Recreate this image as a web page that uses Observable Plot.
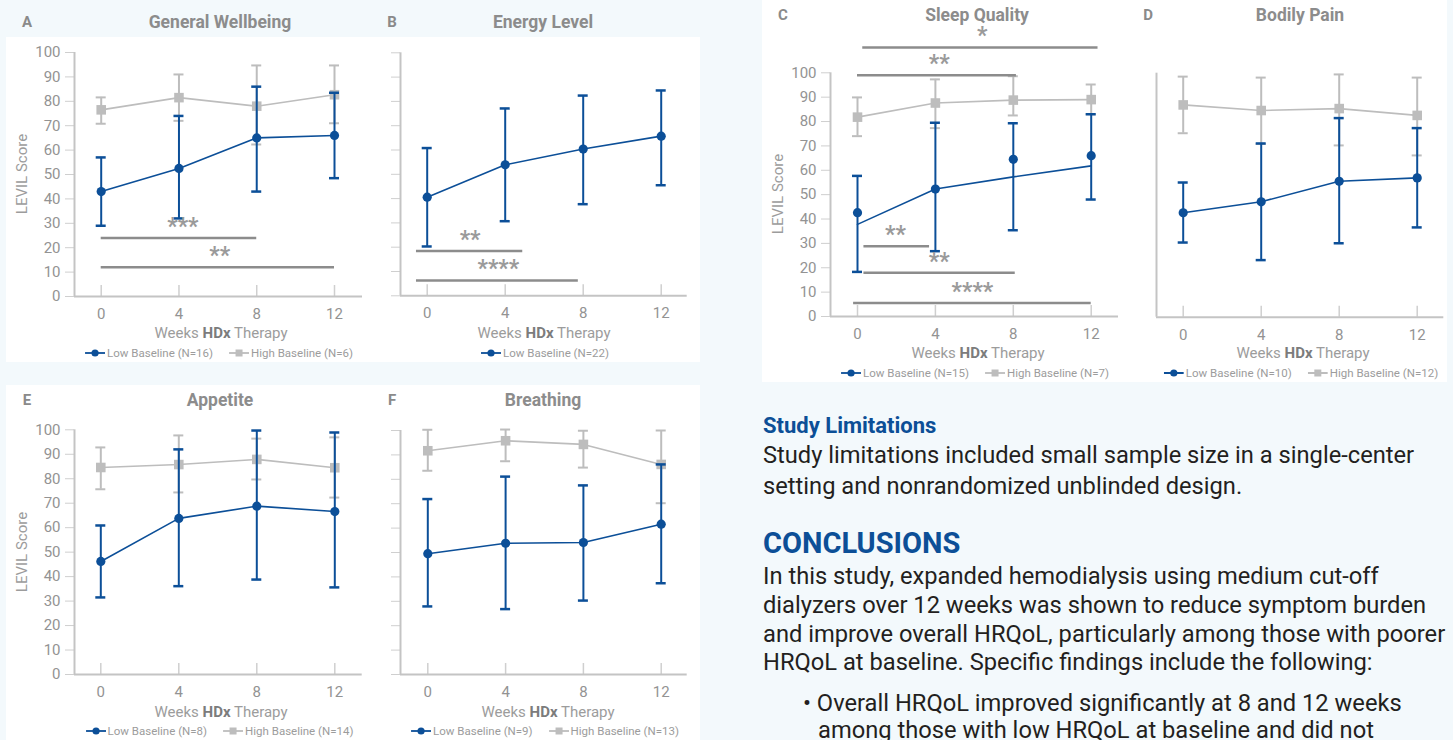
<!DOCTYPE html>
<html><head><meta charset="utf-8">
<script src="https://cdn.jsdelivr.net/npm/d3@7"></script>
<script src="https://cdn.jsdelivr.net/npm/@observablehq/plot@0.6"></script>
<style>
body{margin:0;width:1453px;height:740px;overflow:hidden;background:#f3f9fc;font-family:Roboto,"Open Sans",sans-serif;position:relative}
.card{position:absolute;background:#fff}
.letter{position:absolute;font-weight:700;font-size:15px;color:#8a8a8a;transform:translate(-50%,-50%)}
.title{position:absolute;font-weight:700;font-size:17.5px;color:#8c8c8c;transform:translate(-50%,-50%);white-space:nowrap}
.xtitle{position:absolute;font-size:15px;color:#9c9c9c;transform:translate(-50%,-50%);white-space:nowrap}
.xtitle b{color:#7c7c7c}
.ylabel{position:absolute;font-size:15px;color:#9c9c9c;transform:translate(-50%,-50%) rotate(-90deg);white-space:nowrap}
.legend{position:absolute;transform:translate(-50%,-50%);display:flex;gap:16px;font-size:11.5px;color:#9c9c9c;white-space:nowrap;align-items:center}
.legend .item{display:flex;align-items:center;gap:2px}
.plotbox{position:absolute}
#txt{position:absolute;left:763px;top:0;color:#231f20}
#txt div{position:absolute;left:0;white-space:nowrap;line-height:30px}
.body{font-size:23.7px}
</style>
</head><body>
<div class="card" style="left:6px;top:37px;width:694px;height:325px"></div>
<div class="card" style="left:762px;top:0;width:685px;height:382px"></div>
<div class="card" style="left:6px;top:385px;width:694px;height:355px"></div>
<div id="root"></div>
<div id="txt">
  <div style="top:411px;font-size:22px;font-weight:700;color:#0c4f97">Study Limitations</div>
  <div class="body" style="top:440px">Study limitations included small sample size in a single-center</div>
  <div class="body" style="top:471px">setting and nonrandomized unblinded design.</div>
  <div style="top:528px;font-size:29px;font-weight:700;color:#0c4f97">CONCLUSIONS</div>
  <div class="body" style="top:561px">In this study, expanded hemodialysis using medium cut-off</div>
  <div class="body" style="top:590px">dialyzers over 12 weeks was shown to reduce symptom burden</div>
  <div class="body" style="top:619px">and improve overall HRQoL, particularly among those with poorer</div>
  <div class="body" style="top:647px">HRQoL at baseline. Specific findings include the following:</div>
  <div class="body" style="top:688px;left:40px">• Overall HRQoL improved significantly at 8 and 12 weeks</div>
  <div class="body" style="top:715px;left:55px">among those with low HRQoL at baseline and did not</div>
</div>
<script>
// ---------- DATA ----------
const weeks = [0, 4, 8, 12];
const yTicks = [0, 10, 20, 30, 40, 50, 60, 70, 80, 90, 100];
const panelLetters = ["A", "B", "C", "D", "E", "F"];
const panelTitles = ["General Wellbeing", "Energy Level", "Sleep Quality", "Bodily Pain", "Appetite", "Breathing"];
const lowLegend = ["Low Baseline (N=16)", "Low Baseline (N=22)", "Low Baseline (N=15)", "Low Baseline (N=10)", "Low Baseline (N=8)", "Low Baseline (N=9)"];
const highLegend = ["High Baseline (N=6)", null, "High Baseline (N=7)", "High Baseline (N=12)", "High Baseline (N=14)", "High Baseline (N=13)"];

// A General Wellbeing
const aLowMean = [43, 52.5, 65, 66];
const aLowLo = [29, 32, 43, 48.5];
const aLowHi = [57, 74, 86, 83.5];
const aHighMean = [76.5, 81.5, 78, 82.7];
const aHighLo = [70.8, 72, 62.3, 71];
const aHighHi = [81.6, 91, 94.7, 94.7];
const aSigFrom = [0, 0], aSigTo = [8, 12], aSigY = [24, 12], aSigLabel = ["***", "**"], aSigLabelX = [4.2, 6.1];

// B Energy Level
const bLowMean = [40.6, 53.9, 60.4, 65.7];
const bLowLo = [20.3, 30.7, 37.7, 45.5];
const bLowHi = [60.8, 77.1, 82.4, 84.5];
const bSigFrom = [-0.55, -0.55], bSigTo = [4.9, 7.75], bSigY = [18.4, 6.3], bSigLabel = ["**", "****"], bSigLabelX = [2.2, 3.65];

// C Sleep Quality
const cLowMean = [42.6, 52.3, 64.5, 66];
const cLowLo = [18.3, 26.8, 35.4, 48];
const cLowHi = [57.7, 79.5, 79.3, 83];
const cLowLine = [37.8, 52.3, 57.3, 61.8];
const cHighMean = [81.8, 87.6, 88.8, 89];
const cHighLo = [74, 77.3, 82.5, 83];
const cHighHi = [89.9, 97.3, 98.6, 95.2];
const cSigFrom = [0.27, 0, 0.33, 0.33, -0.2], cSigTo = [12.35, 8.16, 3.7, 8.1, 12];
const cSigY = [110.4, 99, 28.8, 18, 5.5], cSigLabel = ["*", "**", "**", "**", "****"], cSigLabelX = [6.4, 4.2, 1.95, 4.2, 5.9];

// D Bodily Pain
const dLowMean = [42.8, 47.3, 55.7, 57.1];
const dLowLo = [30.6, 23.4, 30.3, 36.8];
const dLowHi = [55.2, 71.2, 81.6, 77.5];
const dHighMean = [87, 84.7, 85.5, 82.7];
const dHighLo = [75.4, 71, 70.4, 66.3];
const dHighHi = [98.6, 98.2, 99.5, 98.2];

// E Appetite
const eLowMean = [46.2, 63.8, 68.8, 66.6];
const eLowLo = [31.5, 36.1, 38.8, 35.6];
const eLowHi = [60.9, 92, 99.7, 98.9];
const eHighMean = [84.6, 85.8, 87.9, 84.5];
const eHighLo = [75.7, 74.4, 79.7, 72.3];
const eHighHi = [92.8, 97.7, 96.4, 96.9];

// F Breathing
const fLowMean = [49.5, 53.8, 54.1, 61.6];
const fLowLo = [27.9, 26.8, 30.3, 37.4];
const fLowHi = [71.9, 81.1, 77.5, 86.1];
const fHighMean = [91.7, 95.8, 94.3, 86.1];
const fHighLo = [83.5, 87.4, 84.8, 70.2];
const fHighHi = [100.3, 100.4, 99.9, 100];

// ---------- STYLE / LAYOUT ----------
const BLUE = "#0c4f98", GRAY = "#bdbdbd", AXIS = "#c4c4c4", TICK = "#cfcfcf", LABEL = "#939393", SIG = "#8c8c8c", STAR = "#9a9a9a";

const rows = (m, lo, hi) => weeks.map((w, i) => ({w, m: m[i], lo: lo ? lo[i] : null, hi: hi ? hi[i] : null}));
const sigRows = (f, t, y, l, lx) => f.map((_, i) => ({x1: f[i], x2: t[i], y: y[i], label: l[i], lx: lx[i]}));

const panels = [
  {box: [0, 28, 370, 300], axisX: 74, rightX: 362, y100: 52, y0: 296, x0px: 100.7, x12px: 334, yMode: "labels",
   low: rows(aLowMean, aLowLo, aLowHi), high: rows(aHighMean, aHighLo, aHighHi), sig: sigRows(aSigFrom, aSigTo, aSigY, aSigLabel, aSigLabelX),
   letter: [27, 22], title: [220, 22], xtitle: [221, 333], legend: [219, 353], ylabel: [22, 174]},
  {box: [370, 28, 325, 300], axisX: 400, rightX: 686.7, y100: 52.3, y0: 295.3, x0px: 426.7, x12px: 660.7, yMode: "ticks",
   low: rows(bLowMean, bLowLo, bLowHi), high: null, sig: sigRows(bSigFrom, bSigTo, bSigY, bSigLabel, bSigLabelX),
   letter: [392, 22], title: [543, 22], xtitle: [544, 333], legend: [545, 353]},
  {box: [760, 0, 365, 348], axisX: 830, rightX: 1118, y100: 72.3, y0: 316, x0px: 857, x12px: 1090.7, yMode: "labels",
   low: rows(cLowMean, cLowLo, cLowHi), lowLine: rows(cLowLine), high: rows(cHighMean, cHighLo, cHighHi), sig: sigRows(cSigFrom, cSigTo, cSigY, cSigLabel, cSigLabelX),
   letter: [783, 15], title: [977, 15], xtitle: [978, 353], legend: [975, 373], ylabel: [778, 194]},
  {box: [1125, 0, 328, 348], axisX: 1156, rightX: 1443.3, y100: 72.7, y0: 316.7, x0px: 1182.7, x12px: 1416.7, yMode: "none",
   low: rows(dLowMean, dLowLo, dLowHi), high: rows(dHighMean, dHighLo, dHighHi), sig: [],
   letter: [1148, 15], title: [1300, 15], xtitle: [1303, 353], legend: [1301, 373]},
  {box: [0, 405, 370, 300], axisX: 74, rightX: 361.7, y100: 429.3, y0: 674, x0px: 100.3, x12px: 334.3, yMode: "labels",
   low: rows(eLowMean, eLowLo, eLowHi), high: rows(eHighMean, eHighLo, eHighHi), sig: [],
   letter: [27, 400], title: [220, 400], xtitle: [221, 712], legend: [219.5, 731], ylabel: [22, 552]},
  {box: [370, 405, 325, 300], axisX: 400, rightX: 686.7, y100: 430, y0: 674, x0px: 427.3, x12px: 660.7, yMode: "ticks",
   low: rows(fLowMean, fLowLo, fLowHi), high: rows(fHighMean, fHighLo, fHighHi), sig: [],
   letter: [392, 400], title: [543, 400], xtitle: [548, 712], legend: [545, 731]}
];

const root = document.getElementById("root");
function el(cls, html, x, y) {
  const d = document.createElement("div");
  d.className = cls; d.innerHTML = html;
  d.style.left = x + "px"; d.style.top = y + "px";
  root.appendChild(d); return d;
}
const swatchLow = `<svg width="20" height="10"><line x1="0" x2="20" y1="5" y2="5" stroke="${BLUE}" stroke-width="1.8"/><circle cx="10" cy="5" r="3.6" fill="${BLUE}"/></svg>`;
const swatchHigh = `<svg width="20" height="10"><line x1="0" x2="20" y1="5" y2="5" stroke="${GRAY}" stroke-width="1.8"/><rect x="6.5" y="1.5" width="7" height="7" fill="${GRAY}"/></svg>`;

panels.forEach((p, i) => {
  const [left, top, width, height] = p.box;
  const ppu = (p.x12px - p.x0px) / 12;
  const xmin = (p.axisX - p.x0px) / ppu, xmax = (p.rightX - p.x0px) / ppu;
  const capU = 5 / ppu;
  const plotH = p.y0 - p.y100;
  const marks = [];
  marks.push(Plot.ruleX(weeks, {x: d => d, insetTop: plotH - 11, stroke: TICK, strokeWidth: 1.5}));
  if (p.yMode === "labels") marks.push(Plot.axisY({ticks: yTicks, tickSize: 9, tickPadding: 5, fontSize: 15, stroke: TICK, fill: LABEL, label: null}));
  if (p.yMode === "ticks") marks.push(Plot.axisY({ticks: yTicks, tickSize: 9, tickPadding: 5, fontSize: 15, stroke: TICK, fill: LABEL, tickFormat: () => "", label: null}));
  marks.push(Plot.axisX({ticks: weeks, tickSize: 0, tickPadding: 12, fontSize: 15, fill: LABEL, label: null}));
  marks.push(Plot.ruleX([xmin], {stroke: AXIS, strokeWidth: 2}));
  marks.push(Plot.ruleY([0], {stroke: AXIS, strokeWidth: 2}));
  if (p.high) {
    marks.push(Plot.ruleX(p.high, {x: "w", y1: "lo", y2: "hi", stroke: GRAY, strokeWidth: 2}));
    marks.push(Plot.ruleY(p.high, {y: "lo", x1: d => d.w - capU, x2: d => d.w + capU, stroke: GRAY, strokeWidth: 2}));
    marks.push(Plot.ruleY(p.high, {y: "hi", x1: d => d.w - capU, x2: d => d.w + capU, stroke: GRAY, strokeWidth: 2}));
    marks.push(Plot.line(p.high, {x: "w", y: "m", stroke: GRAY, strokeWidth: 1.6}));
    marks.push(Plot.dot(p.high, {x: "w", y: "m", symbol: "square", r: 5.4, fill: GRAY}));
  }
  marks.push(Plot.ruleX(p.low, {x: "w", y1: "lo", y2: "hi", stroke: BLUE, strokeWidth: 2}));
  marks.push(Plot.ruleY(p.low, {y: "lo", x1: d => d.w - capU, x2: d => d.w + capU, stroke: BLUE, strokeWidth: 2.5}));
  marks.push(Plot.ruleY(p.low, {y: "hi", x1: d => d.w - capU, x2: d => d.w + capU, stroke: BLUE, strokeWidth: 2.5}));
  marks.push(Plot.line(p.lowLine || p.low, {x: "w", y: "m", stroke: BLUE, strokeWidth: 1.6}));
  marks.push(Plot.dot(p.low, {x: "w", y: "m", r: 4.6, fill: BLUE}));
  if (p.sig.length) {
    marks.push(Plot.ruleY(p.sig, {y: "y", x1: "x1", x2: "x2", stroke: SIG, strokeWidth: 2.5}));
    marks.push(Plot.text(p.sig, {x: "lx", y: "y", text: "label", dy: -4, lineAnchor: "bottom", fontSize: 23, fontWeight: 700, fill: STAR}));
  }
  const chart = Plot.plot({
    width, height,
    marginLeft: p.axisX - left, marginRight: left + width - p.rightX,
    marginTop: p.y100 - top, marginBottom: top + height - p.y0,
    x: {domain: [xmin, xmax], label: null},
    y: {domain: [0, 100], label: null, axis: p.yMode === "none" ? null : undefined},
    style: {background: "transparent", overflow: "visible", fontFamily: "Roboto, sans-serif"},
    marks
  });
  const box = document.createElement("div");
  box.className = "plotbox";
  box.style.left = left + "px"; box.style.top = top + "px";
  box.style.width = width + "px"; box.style.height = height + "px";
  box.appendChild(chart);
  root.appendChild(box);

  el("letter", panelLetters[i], p.letter[0], p.letter[1]);
  el("title", panelTitles[i], p.title[0], p.title[1]);
  el("xtitle", "Weeks <b>HDx</b> Therapy", p.xtitle[0], p.xtitle[1]);
  if (p.ylabel) el("ylabel", "LEVIL Score", p.ylabel[0], p.ylabel[1]);
  let lg = `<span class="item">${swatchLow}<span>${lowLegend[i]}</span></span>`;
  if (highLegend[i]) lg += `<span class="item">${swatchHigh}<span>${highLegend[i]}</span></span>`;
  el("legend", lg, p.legend[0], p.legend[1]);
});
</script>
</body></html>
